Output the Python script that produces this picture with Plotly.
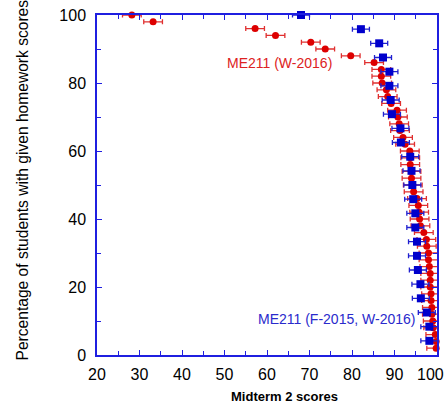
import plotly.graph_objects as go

# Red series: ME211 (W-2016)
red_pct = [100, 98, 96, 94, 92, 90, 88, 86, 84, 82, 80, 78, 76, 74, 72, 70, 68, 66, 64, 62,
           60, 58, 56, 54, 52, 50, 48, 46, 44, 42, 40, 38, 36, 34, 32, 30, 28, 26, 24, 22,
           20, 18, 16, 14, 12, 10, 8, 6, 4, 2]
red_score = [28.2, 33.2, 57.2, 62.0, 70.3, 73.7, 79.7, 85.2, 86.9, 86.9, 87.1, 88.1, 88.4, 89.2,
             90.6, 90.8, 91.1, 91.3, 92.0, 92.5, 93.6, 93.7, 93.7, 94.0, 94.0, 94.3, 94.5, 95.3,
             95.6, 95.8, 95.9, 96.1, 96.9, 97.5, 97.6, 98.0, 98.0, 98.2, 98.4, 98.4, 98.4, 98.6,
             98.6, 98.8, 98.8, 99.0, 99.1, 99.6, 99.8, 99.8]
red_err = [2.2] * len(red_score)

# Blue series: ME211 (F-2015, W-2016)
blue_pct = [100, 95.83, 91.67, 87.5, 83.33, 79.17, 75, 70.83, 66.67, 62.5, 58.33, 54.17,
            50, 45.83, 41.67, 37.5, 33.33, 29.17, 25, 20.83, 16.67, 12.5, 8.33, 4.17]
blue_score = [68.0, 82.1, 86.4, 87.3, 88.8, 88.8, 89.1, 89.4, 91.4, 91.5, 93.7, 94.0,
              94.2, 94.4, 94.9, 94.9, 95.3, 95.3, 95.5, 96.1, 96.2, 97.6, 98.2, 98.2]
blue_err = [2.0] * len(blue_score)

x_ticks = [20, 30, 40, 50, 60, 70, 80, 90, 100]
x_tick_labels = ["20", "30", "40", "50", "60", "70", "80", "90", ""]
x_last_label = "100"
y_ticks = [0, 20, 40, 60, 80, 100]

RED = "#dd0000"
BLUE = "#0000cc"
AXIS = "#1f1fe0"
FONT = "Liberation Sans, Arial"

fig = go.Figure()
fig.add_trace(go.Scatter(
    x=red_score, y=red_pct, mode="markers",
    marker=dict(symbol="circle", size=7, color=RED),
    error_x=dict(type="data", array=red_err, color="#e03030", thickness=1.3, width=2.5),
    cliponaxis=False, showlegend=False))
fig.add_trace(go.Scatter(
    x=blue_score, y=blue_pct, mode="markers",
    marker=dict(symbol="square", size=8, color=BLUE),
    error_x=dict(type="data", array=blue_err, color="#2020d0", thickness=1.3, width=2.5),
    cliponaxis=False, showlegend=False))

axis_common = dict(showline=True, linecolor=AXIS, linewidth=1.5, mirror="ticks",
                   ticks="inside", ticklen=5, tickcolor=AXIS, tickwidth=1,
                   showgrid=False, zeroline=False, automargin=False,
                   ticklabeloverflow="allow",
                   tickfont=dict(family=FONT, size=16, color="black"))

fig.update_xaxes(range=[20, 100], tickvals=x_ticks, ticktext=x_tick_labels,
                 minor=dict(dtick=5, ticks="inside", ticklen=4, tickcolor=AXIS),
                 ticklabelstandoff=4, **axis_common)
fig.update_yaxes(range=[0, 100], tickvals=y_ticks,
                 minor=dict(dtick=10, ticks="inside", ticklen=4, tickcolor=AXIS),
                 ticklabelstandoff=6, **axis_common)

def px_x(p):
    return (p - 97) / 340

def px_y(p):
    return (355 - p) / 340

# last x tick label kept fully inside the picture
fig.add_annotation(text=x_last_label, x=px_x(446), y=px_y(374),
                   xref="paper", yref="paper", xanchor="right", yanchor="middle",
                   showarrow=False, font=dict(family=FONT, size=16, color="black"))
fig.add_annotation(text="ME211 (W-2016)", x=px_x(279), y=px_y(63),
                   xref="paper", yref="paper", xanchor="center", yanchor="middle",
                   showarrow=False, font=dict(family=FONT, size=14, color="#dd2222"))
fig.add_annotation(text="ME211 (F-2015, W-2016)", x=px_x(336), y=px_y(319),
                   xref="paper", yref="paper", xanchor="center", yanchor="middle",
                   showarrow=False, font=dict(family=FONT, size=14, color="#2a2acc"))
fig.add_annotation(text="Percentage of students with given homework scores",
                   x=px_x(22), y=px_y(363), xref="paper", yref="paper",
                   textangle=-90, xanchor="center", yanchor="bottom", showarrow=False,
                   font=dict(family=FONT, size=15.6, color="black"))
fig.add_annotation(text="<b>Midterm 2 scores</b>", x=px_x(284), y=px_y(396),
                   xref="paper", yref="paper", xanchor="center", yanchor="middle",
                   showarrow=False, font=dict(family=FONT, size=13, color="black"))

fig.update_layout(width=447, height=404, margin=dict(l=97, r=10, t=15, b=49),
                  paper_bgcolor="white", plot_bgcolor="white")
fig.write_html("out.html", config={"displayModeBar": False},
               post_script="document.body.style.margin='0';document.body.style.overflow='hidden';")
